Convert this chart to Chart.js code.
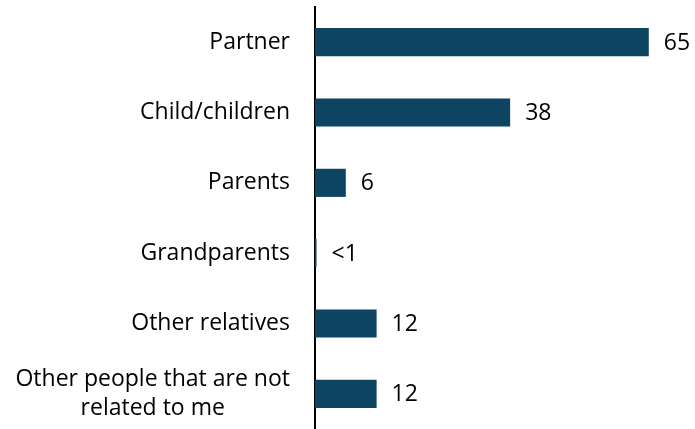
<!DOCTYPE html>
<html>
<head>
<meta charset="utf-8">
<script src="https://cdn.jsdelivr.net/npm/chart.js@4"></script>
<style>
  html, body { margin: 0; padding: 0; background: #ffffff; }
  #wrap { width: 695px; height: 429px; }
</style>
</head>
<body>
<div id="wrap"><canvas id="chart"></canvas></div>
<script>
// Who lives in the household (%)
const categories = [
  "Partner",
  "Child/children",
  "Parents",
  "Grandparents",
  "Other relatives",
  ["Other people that are not", "related to me"]
];
const values = [65, 38, 6, 0.3, 12, 12];
const valueLabels = ["65", "38", "6", "<1", "12", "12"];

const FONT = "'Open Sans', 'Noto Sans', sans-serif";
const FONT_SIZE = 23;
const LINE_GAP = 29;

// Writes each bar's value just past its end
const barValueLabels = {
  id: "barValueLabels",
  afterDatasetsDraw(chart) {
    const ctx = chart.ctx;
    const meta = chart.getDatasetMeta(0);
    ctx.save();
    ctx.font = FONT_SIZE + "px " + FONT;
    ctx.fillStyle = "#000000";
    ctx.textAlign = "left";
    ctx.textBaseline = "middle";
    meta.data.forEach((bar, i) => {
      ctx.fillText(valueLabels[i], bar.x + 15, bar.y + 1);
    });
    ctx.restore();
  }
};

// Category names: right-aligned block, wrapped lines centred within it
const categoryNames = {
  id: "categoryNames",
  afterDraw(chart) {
    const ctx = chart.ctx;
    const yScale = chart.scales.y;
    const rightEdge = yScale.right - 25;
    ctx.save();
    ctx.font = FONT_SIZE + "px " + FONT;
    ctx.fillStyle = "#000000";
    ctx.textAlign = "center";
    ctx.textBaseline = "middle";
    categories.forEach((label, i) => {
      const lines = Array.isArray(label) ? label : [label];
      const blockW = Math.max(...lines.map(l => ctx.measureText(l).width));
      const cx = rightEdge - blockW / 2;
      const cy = yScale.getPixelForTick(i);
      const top = cy - (lines.length - 1) * LINE_GAP / 2;
      lines.forEach((line, j) => ctx.fillText(line, cx, top + j * LINE_GAP));
    });
    ctx.restore();
  }
};

new Chart(document.getElementById("chart"), {
  type: "bar",
  data: {
    labels: categories,
    datasets: [{
      data: values,
      backgroundColor: "#0d4462",
      borderWidth: 0,
      categoryPercentage: 1,
      barPercentage: 0.4
    }]
  },
  options: {
    indexAxis: "y",
    responsive: true,
    maintainAspectRatio: false,
    animation: false,
    layout: { padding: { top: 7, bottom: 0, left: 0, right: 0 } },
    plugins: {
      legend: { display: false },
      tooltip: { enabled: false }
    },
    scales: {
      x: {
        display: false,
        min: 0,
        max: 74
      },
      y: {
        grid: { display: false, drawTicks: false },
        border: { display: true, color: "#000000", width: 2 },
        ticks: { display: false },
        afterFit(scale) {
          scale.width = 315;
          scale.paddingTop = 0;
          scale.paddingBottom = 0;
        }
      }
    }
  },
  plugins: [barValueLabels, categoryNames]
});
</script>
</body>
</html>
